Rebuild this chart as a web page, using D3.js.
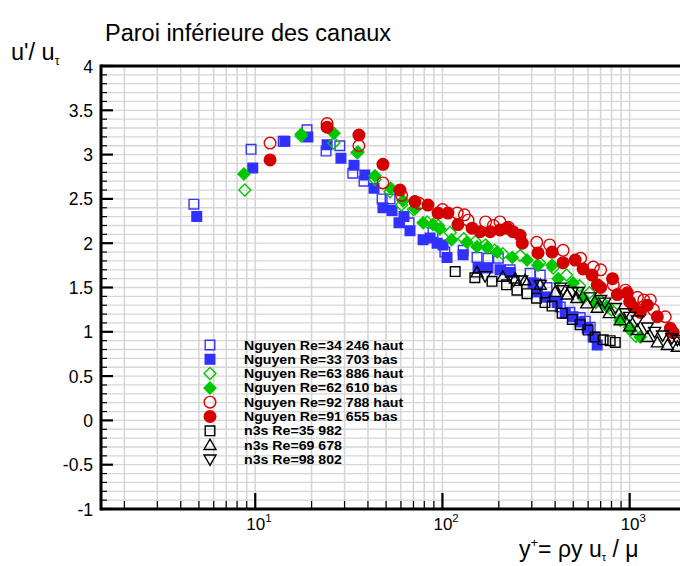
<!DOCTYPE html>
<html><head><meta charset="utf-8">
<script src="https://cdn.jsdelivr.net/npm/d3@7"></script>
<style>body{margin:0;background:#fff}svg{display:block}text{font-family:"Liberation Sans",Arial,sans-serif}</style>
</head><body><svg id="c" width="680" height="566"></svg>
<script>
// ---- data: [y+, u'/u_tau] ----
const nguyen34246Haut = [[4.7,2.44],[9.5,3.06],[14.1,3.15],[18.9,3.28],[23.9,3.04],[28.3,3.10],[33.2,2.79],[38.1,2.70],[47.6,2.50],[52.5,2.50],[66.3,2.23],[89,2.12],[103,1.90],[129,1.92],[153,1.84],[175,1.83],[199,1.83],[230,1.70],[294,1.66],[333,1.64],[362,1.50],[426,1.28],[480,1.22],[544,1.16],[580,1.12],[616,1.05]];
const nguyen33703Bas = [[4.87,2.30],[9.7,2.85],[14.4,3.15],[19.1,3.20],[24.2,3.11],[28.7,2.96],[33.7,2.88],[38.5,2.77],[43.1,2.62],[48.1,2.40],[53.8,2.37],[58.6,2.23],[62.3,2.30],[67.1,2.14],[78.8,2.04],[85.9,2.06],[93.6,2.00],[100.7,1.98],[105.8,1.84],[128.9,1.87],[155,1.72],[175,1.72],[203,1.70],[230,1.67],[305,1.55],[318,1.45],[362,1.39],[410,1.33],[453,1.21],[499,1.17],[544,1.11],[593,1.04],[638,0.94],[671,0.85]];
const nguyen63886Haut = [[8.8,2.60],[17.6,3.21],[26.3,3.13],[35,3.02],[43.6,2.72],[52.5,2.58],[60.5,2.43],[70,2.38],[82.9,2.24],[95,2.20],[110,2.12],[130,2.05],[150,2.02],[170,1.98],[190,1.92],[210,1.88],[260,1.86],[330,1.78],[390,1.72],[460,1.64],[540,1.52],[610,1.44],[700,1.35],[800,1.25],[900,1.15],[1000,1.05],[1080,0.95]];
const nguyen62610Bas = [[8.7,2.78],[17.6,3.23],[26.3,3.24],[35.4,3.03],[43.6,2.76],[53,2.62],[61.6,2.48],[71.5,2.39],[78.9,2.23],[89,2.21],[97,2.16],[112,2.04],[135,2.01],[153,1.96],[173,1.95],[196,1.90],[236,1.84],[283,1.81],[324,1.75],[385,1.75],[415,1.60],[499,1.55],[565,1.38],[660,1.33],[759,1.28],[890,1.13],[1007,1.02],[1140,0.94]];
const nguyen92788Haut = [[12,3.13],[24.2,3.35],[35.8,3.10],[48.1,2.68],[60.5,2.54],[75,2.45],[100,2.38],[120,2.34],[131,2.32],[137,2.26],[170,2.24],[187,2.20],[203,2.24],[225,2.18],[319,2.01],[374,1.98],[441,1.92],[547,1.83],[640,1.73],[700,1.70],[818,1.53],[950,1.47],[1100,1.39],[1190,1.36],[1290,1.36],[1340,1.25],[1550,1.17]];
const nguyen91655Bas = [[12,2.94],[24.2,3.31],[35.8,3.22],[48.1,2.89],[59.3,2.60],[71.3,2.47],[83.7,2.43],[94.7,2.34],[107,2.34],[121,2.21],[144,2.17],[159,2.13],[180,2.13],[203,2.15],[221,2.17],[238,2.13],[260,2.09],[267,2.0],[324,1.89],[385,1.90],[441,1.78],[512,1.81],[564,1.71],[630,1.64],[671,1.53],[700,1.50],[810,1.60],[860,1.42],[972,1.44],[1000,1.34],[1047,1.28],[1141,1.22],[1243,1.30],[1406,1.17],[1650,1.04],[1710,0.99]];
const n3s35982 = [[117,1.68],[149,1.61],[184,1.57],[220,1.53],[250,1.47],[283,1.43],[318,1.38],[353,1.33],[385,1.29],[436,1.21],[494,1.14],[544,1.08],[600,1.02],[654,0.94],[722,0.91],[787,0.90],[838,0.88]];
const n3s69678 = [[153,1.67],[210,1.62],[245,1.60],[276,1.58],[333,1.53],[400,1.45],[464,1.42],[522,1.38],[590,1.32],[671,1.27],[778,1.21],[890,1.13],[1000,1.06],[1100,1.02],[1243,0.94],[1406,0.88],[1590,0.85],[1800,0.83]];
const n3s98802 = [[169,1.63],[240,1.58],[265,1.58],[333,1.53],[426,1.50],[441,1.47],[494,1.45],[532,1.45],[616,1.39],[700,1.36],[737,1.33],[840,1.27],[950,1.21],[1000,1.17],[1100,1.13],[1243,1.05],[1360,1.00],[1500,0.96],[1680,0.93],[1800,0.91],[1950,0.89]];

const seriesNames = ["Nguyen Re=34 246 haut","Nguyen Re=33 703 bas","Nguyen Re=63 886 haut","Nguyen Re=62 610 bas","Nguyen Re=92 788 haut","Nguyen Re=91 655 bas","n3s Re=35 982","n3s Re=69 678","n3s Re=98 802"];
const seriesData = [nguyen34246Haut,nguyen33703Bas,nguyen63886Haut,nguyen62610Bas,nguyen92788Haut,nguyen91655Bas,n3s35982,n3s69678,n3s98802];
const yTickValues = [-1,-0.5,0,0.5,1,1.5,2,2.5,3,3.5,4];
const xDecades = [1,2,3];

// ---- styles ----
const styles = [
  {shape:"square", fill:"none", stroke:"#3535ff"},
  {shape:"square", fill:"#3030ff", stroke:"#3030ff"},
  {shape:"diamond", fill:"none", stroke:"#00c800"},
  {shape:"diamond", fill:"#00c800", stroke:"#00c800"},
  {shape:"circle", fill:"none", stroke:"#dd0000"},
  {shape:"circle", fill:"#d40000", stroke:"#d40000"},
  {shape:"square", fill:"none", stroke:"#000"},
  {shape:"tri", fill:"none", stroke:"#000"},
  {shape:"trid", fill:"none", stroke:"#000"}
];
function symPath(shape){
  if(shape==="square") return "M-4.8,-4.8h9.6v9.6h-9.6z";
  if(shape==="diamond") return "M0,-6L6,0L0,6L-6,0z";
  if(shape==="circle") return "M5.8,0A5.8,5.8 0 1,1 -5.8,0A5.8,5.8 0 1,1 5.8,0z";
  if(shape==="tri") return "M0,-6L6,4.4L-6,4.4z";
  return "M0,6L6,-4.4L-6,-4.4z";
}

const svg = d3.select("#c");
const L=101, R=686, T=66, B=509;
const x = d3.scaleLog().domain([1.5,2000]).range([L,R]);
const y = d3.scaleLinear().domain([-1,4]).range([B,T]);

svg.append("clipPath").attr("id","clip").append("rect").attr("x",L).attr("y",T).attr("width",R-L).attr("height",B-T);

// grid
const grid = svg.append("g").attr("clip-path","url(#clip)");
const xMinor = [];
for(let d=0; d<=3; d++) for(let m=1;m<=9;m++){ const v=m*Math.pow(10,d); if(v>=1.5&&v<=2000) xMinor.push(v); }
grid.selectAll(".gx").data(xMinor).enter().append("line")
  .attr("x1",d=>x(d)).attr("x2",d=>x(d)).attr("y1",T).attr("y2",B)
  .attr("stroke","#d6d6d6").attr("stroke-width",1.6);
const yMinor = d3.range(-10,41).map(i=>i/10);
grid.selectAll(".gy").data(yMinor).enter().append("line")
  .attr("x1",L).attr("x2",R).attr("y1",d=>y(d)).attr("y2",d=>y(d))
  .attr("stroke","#d6d6d6").attr("stroke-width",1.3);

// axes frame
const ax = svg.append("g");
ax.append("line").attr("x1",L).attr("x2",680).attr("y1",T).attr("y2",T).attr("stroke","#000").attr("stroke-width",3);
ax.append("line").attr("x1",L).attr("x2",680).attr("y1",B).attr("y2",B).attr("stroke","#000").attr("stroke-width",3);
ax.append("line").attr("x1",L).attr("x2",L).attr("y1",T-1.5).attr("y2",B+1.5).attr("stroke","#000").attr("stroke-width",3);
// y ticks
ax.selectAll(".ytm").data(yMinor).enter().append("line")
  .attr("x1",L).attr("x2",d=>L+(Math.abs(Math.round(d*10)%5)===0?12:6)).attr("y1",d=>y(d)).attr("y2",d=>y(d))
  .attr("stroke","#000").attr("stroke-width",d=>Math.abs(Math.round(d*10)%5)===0?2.2:1.2);
ax.selectAll(".ytl").data(yTickValues).enter().append("text")
  .attr("x",93).attr("y",d=>y(d)+6.5).attr("text-anchor","end").attr("font-size",17.5).text(d=>d);
// x ticks
ax.selectAll(".xtm").data(xMinor).enter().append("line")
  .attr("x1",d=>x(d)).attr("x2",d=>x(d)).attr("y1",B).attr("y2",d=>B-(xDecades.map(e=>Math.pow(10,e)).includes(d)?16:8))
  .attr("stroke","#000").attr("stroke-width",d=>xDecades.map(e=>Math.pow(10,e)).includes(d)?2.2:1.2);
const xl = ax.selectAll(".xtl").data(xDecades).enter().append("text")
  .attr("x",d=>x(Math.pow(10,d))-9).attr("y",530).attr("font-size",17);
xl.append("tspan").text("10");
xl.append("tspan").attr("dy",-8).attr("font-size",11.5).text(d=>d);

// title and axis labels
svg.append("text").attr("x",105).attr("y",41).attr("font-size",23.5).text("Paroi inférieure des canaux");
const yl = svg.append("text").attr("x",11).attr("y",60).attr("font-size",23.5);
yl.append("tspan").text("u'/ u");
yl.append("tspan").attr("dy",5).attr("font-size",12).text("τ");
const xlab = svg.append("text").attr("x",519).attr("y",557).attr("font-size",23);
xlab.append("tspan").text("y");
xlab.append("tspan").attr("dy",-10).attr("font-size",13).text("+");
xlab.append("tspan").attr("dy",10).text("= ρy u");
xlab.append("tspan").attr("dy",4).attr("font-size",11).text("τ");
xlab.append("tspan").attr("dy",-4).text(" / μ");

// data marks
const marks = svg.append("g").attr("clip-path","url(#clip)");
seriesData.forEach((data,i)=>{
  const st = styles[i];
  marks.append("g").selectAll("path").data(data).enter().append("path")
    .attr("d",symPath(st.shape))
    .attr("transform",d=>`translate(${x(d[0])},${y(d[1])})`)
    .attr("fill",st.fill).attr("stroke",st.stroke).attr("stroke-width",1.4);
});

// legend
const lg = svg.append("g");
seriesNames.forEach((name,i)=>{
  const st = styles[i];
  const cy = 345 + i*14.3;
  lg.append("path").attr("d",symPath(st.shape)).attr("transform",`translate(210,${cy})`)
    .attr("fill",st.fill).attr("stroke",st.stroke).attr("stroke-width",1.4);
  lg.append("text").attr("transform",`translate(244,${cy+4.5}) scale(1.16,1)`)
    .attr("font-size",12.2).attr("font-weight","bold").text(name);
});
</script></body></html>
